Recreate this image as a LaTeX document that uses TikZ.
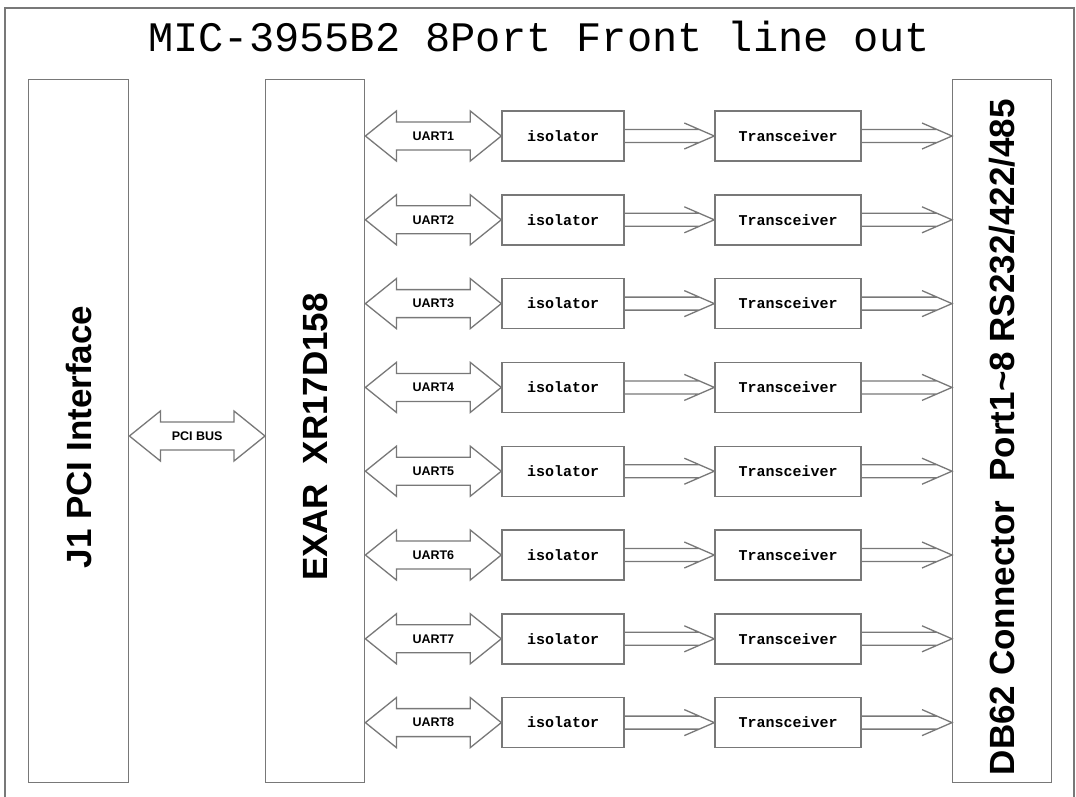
\documentclass[tikz,border=0pt]{standalone}
\usepackage{fontspec}
\setmainfont{Liberation Sans}
\newfontfamily\monofont{Liberation Mono}
\usetikzlibrary{calc}
\definecolor{ln}{RGB}{120,120,120}
\tikzset{
  x=1pt, y=1pt,
  bigbox/.style={draw=ln, line width=1.4pt, inner sep=0pt, anchor=north west,
    minimum height=703pt},
  smallbox/.style={draw=ln, line width=1.4pt, inner sep=0pt, minimum height=50pt,
    font=\monofont\bfseries\fontsize{15}{17}\selectfont},
  biglabel/.style={font=\bfseries\fontsize{35}{40}\selectfont, rotate=90, inner sep=0pt},
  uartlbl/.style={font=\bfseries\fontsize{12.5}{14}\selectfont, inner sep=0pt},
  arrowline/.style={draw=ln, line width=1.3pt, line join=miter},
  framebox/.style={draw=ln, line width=1.2pt},
}
\newcommand\blkarrow[3]{%
  \draw[arrowline] let \p1=#1, \p2=#2 in
    (\x1,\y1) -- (\x1+31pt,\y1+25pt) -- (\x1+31pt,\y1+14pt) -- (\x2-31pt,\y1+14pt)
    -- (\x2-31pt,\y1+25pt) -- (\x2,\y1) -- (\x2-31pt,\y1-25pt) -- (\x2-31pt,\y1-14pt)
    -- (\x1+31pt,\y1-14pt) -- (\x1+31pt,\y1-25pt) -- cycle;
  \node[uartlbl] at ($#1!0.5!#2$) {#3};}
\newcommand\dlarrow[2]{%
  \draw[arrowline] let \p1=#1, \p2=#2 in
    (\x1,\y1+6.5pt) -- (\x2-15pt,\y1+6.5pt)
    (\x1,\y1-6.5pt) -- (\x2-15pt,\y1-6.5pt)
    (\x2-30pt,\y1+13pt) -- (\x2,\y1) -- (\x2-30pt,\y1-13pt);}
\begin{document}
\begin{tikzpicture}
\useasboundingbox (0,0) rectangle (1076,-796);
\clip (0,0) rectangle (1076,-796);
\fill[white] (0,0) rectangle (1076,-796);
% outer frame
\draw[framebox] (5,-830) |- (1074,-8) -- (1074,-830);
\node[font=\monofont\fontsize{42}{48}\selectfont, inner sep=0pt] (title) at (539,-36) {MIC-3955B2 8Port Front line out};
% big boxes
\node[bigbox, minimum width=100pt] (j1) at (28,-79) {};
\node[bigbox, minimum width=99pt] (exar) at (265,-79) {};
\node[bigbox, minimum width=99pt] (db) at (952,-79) {};
\coordinate (mid) at (0,-437);
\node[biglabel] (j1t) at (j1.center |- mid) {J1 PCI Interface};
\node[biglabel] (exart) at (exar.center |- mid) {EXAR\ \ XR17D158};
\node[biglabel] (dbt) at (db.center |- mid) {DB62 Connector\ \ Port1\textasciitilde 8 RS232/422/485};
% PCI bus
\coordinate (pci) at (0,-436);
\blkarrow{(j1.east |- pci)}{(exar.west |- pci)}{PCI BUS}
% rows
\foreach \i in {1,...,8}{
  \pgfmathsetmacro\yy{-136-83.8*(\i-1)}
  \node[smallbox, minimum width=122pt] (iso\i) at (563,\yy) {isolator};
  \node[smallbox, minimum width=146pt] (tr\i) at (788,\yy) {Transceiver};
  \blkarrow{(exar.east |- iso\i.west)}{(iso\i.west)}{UART\i}
  \dlarrow{(iso\i.east)}{(tr\i.west)}
  \dlarrow{(tr\i.east)}{(db.west |- tr\i.east)}
}
\end{tikzpicture}
\end{document}
